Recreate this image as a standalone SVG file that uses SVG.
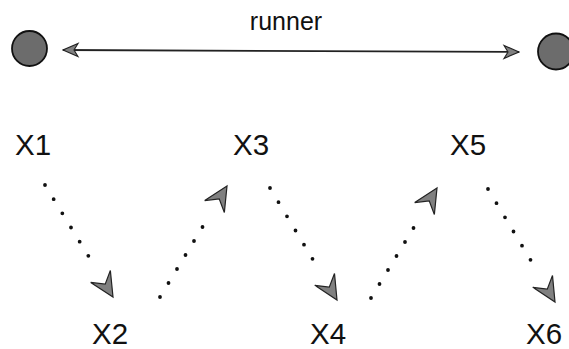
<svg xmlns="http://www.w3.org/2000/svg" xmlns:xlink="http://www.w3.org/1999/xlink" width="569" height="349" viewBox="0 0 569 349">
<style>
  .lbl { font-family: "Liberation Sans", Arial, Helvetica, sans-serif; font-size: 29.5px; fill: #111; }
  .run { font-family: "Liberation Sans", Arial, Helvetica, sans-serif; font-size: 25px; fill: #111; }
  .ball { fill: #6c6c6c; stroke: #111; stroke-width: 1.8; }
  .dots { stroke: #111; stroke-width: 3.8; stroke-linecap: round; stroke-dasharray: 0 1; fill: none; }
  .head { fill: #808080; stroke: #222; stroke-width: 1.2; stroke-linejoin: miter; }
  .rline { stroke: #222; stroke-width: 1.8; fill: none; }
</style>
<defs>
  <path id="ah" d="M0,0 L-24,-11.5 L-15,0 L-24,11.5 Z"/>
  <marker id="sm" viewBox="-17 -8 18 16" refX="0" refY="0" markerWidth="18" markerHeight="16" markerUnits="userSpaceOnUse" orient="auto-start-reverse">
    <path d="M0,0 L-15,-6.5 L-11,0 L-15,6.5 Z" fill="#808080" stroke="#222" stroke-width="1.1"/>
  </marker>
</defs>

<g id="runner">
  <text class="run" x="286" y="30" text-anchor="middle">runner</text>
</g>
<g id="ballL"><circle class="ball" cx="29.5" cy="48.5" r="17.5"/></g>
<g id="ballR"><circle class="ball" cx="556" cy="51.5" r="18"/></g>

<g id="X1"><text class="lbl" x="15" y="155">X1</text></g>
<g id="X3"><text class="lbl" x="233" y="155">X3</text></g>
<g id="X5"><text class="lbl" x="450" y="155">X5</text></g>
<g id="X2"><text class="lbl" x="92" y="344">X2</text></g>
<g id="X4"><text class="lbl" x="310" y="344">X4</text></g>
<g id="X6"><text class="lbl" x="526" y="344">X6</text></g>

<g id="connectors">
  <line class="rline" x1="63" y1="50" x2="519" y2="52" marker-start="url(#sm)" marker-end="url(#sm)"/>

  <line class="dots" x1="45" y1="185" x2="97" y2="270" pathLength="6"/>
  <use xlink:href="#ah" class="head" transform="translate(113,297) rotate(58.7)"/>

  <line class="dots" x1="160" y1="297" x2="211" y2="213" pathLength="6"/>
  <use xlink:href="#ah" class="head" transform="translate(227,186) rotate(-58.7)"/>

  <line class="dots" x1="270" y1="188" x2="321" y2="273" pathLength="6"/>
  <use xlink:href="#ah" class="head" transform="translate(337,300) rotate(59)"/>

  <line class="dots" x1="371" y1="298" x2="422" y2="214" pathLength="6"/>
  <use xlink:href="#ah" class="head" transform="translate(437,188) rotate(-58.7)"/>

  <line class="dots" x1="488" y1="189" x2="539" y2="274" pathLength="6"/>
  <use xlink:href="#ah" class="head" transform="translate(555,302) rotate(59)"/>
</g>
</svg>
